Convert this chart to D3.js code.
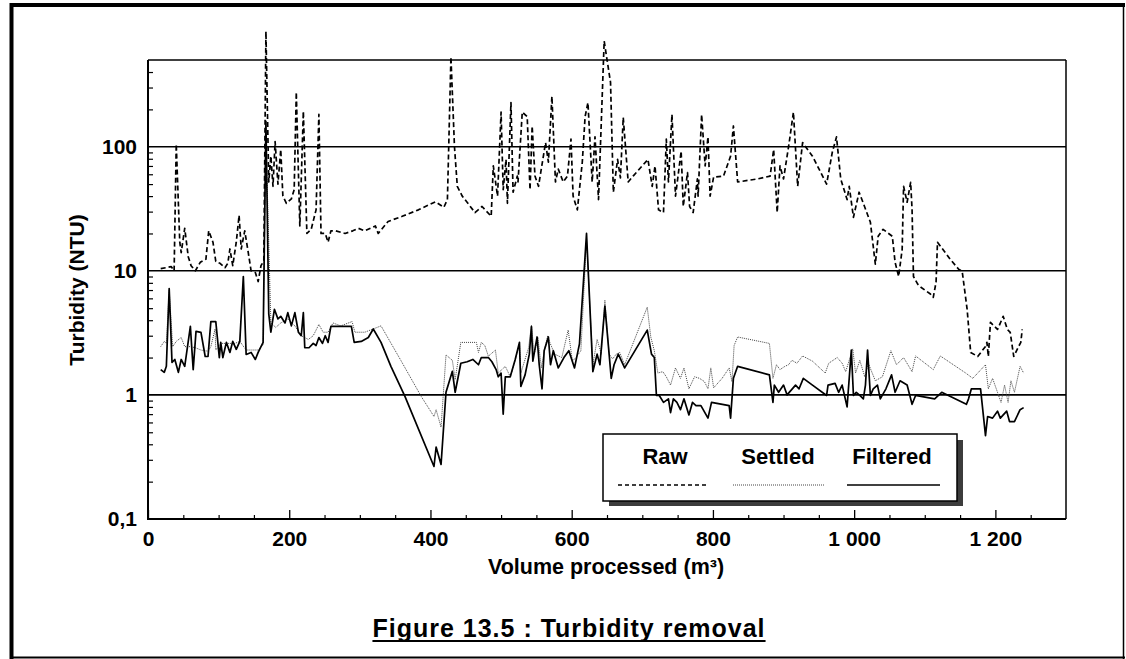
<!DOCTYPE html>
<html>
<head>
<meta charset="utf-8">
<script src="https://cdn.jsdelivr.net/npm/d3@7"></script>
<style>
  html, body { margin: 0; padding: 0; background: #fff; }
  svg { display: block; }
  text { font-family: "Liberation Sans", Arial, sans-serif; font-weight: bold; fill: #000; }
</style>
</head>
<body>
<svg id="chart" width="1126" height="659"></svg>
<script>
// ---------------- DATA ----------------
const rawX = [18,33,37,40,45,47,52,57,61,67,74,82,86,92,96,102,109,113,116,120,125,129,132,137,142,146,152,156,160,164,167,171,174,177,180,184,188,191,196,203,207,210,215,220,225,231,238,242,245,251,255,259,266,279,290,298,307,322,326,340,360,383,407,419,424,429,434,438,445,453,463,473,486,489,495,500,503,507,509,514,517,523,524,530,537,541,544,548,553,563,567,572,577,581,588,594,599,602,608,615,619,623,629,633,638,646,655,659,665,669,673,680,687,708,714,718,723,730,734,737,742,747,755,758,764,767,772,778,779,784,789,793,796,801,815,825,829,835,863,881,886,891,895,900,908,914,920,927,941,961,969,975,981,990,993,999,1007,1013,1023,1030,1034,1041,1054,1058,1063,1068,1070,1075,1080,1082,1084,1090,1094,1108,1112,1116,1118,1136,1148,1153,1160,1165,1175,1186,1188,1190,1193,1203,1205,1211,1217,1221,1226,1233,1236,1238];
const rawY = [10.4,10.8,10.0,105,17,14,22,13,11,10,11.7,12.4,21,17,11.9,11.5,10.6,11.5,15,11,17,28,15,21,14,10,9.7,8.2,11,12,850,52,84,48,110,50,95,40,35,38,45,275,23,193,20,21.5,31,182,20,20,17,21,21,20,21,22,21,23,20,25,27.5,31,36,32.5,37.5,530,100,48,40,35,29.5,33,27.5,70,40,190,45,79,35,227,43,58,52,190,175,45,147,58,48,108,75,255,52,66,52,58,115,40,31,75,175,227,52,120,37.5,710,330,43,79,56,172,52,58,79,48,70,31,29.5,115,52,182,40,92,33,62,33,29.5,55,40,182,70,120,40,57,58,84,147,52,55,58,95,29.5,70,55,108,190,48,108,84,50,90,120,55,37.5,48,27,43,35,24.6,11.3,19,21.6,19,11.7,9.0,14.9,48,35.7,51.7,31.3,9.0,7.8,7.4,6.5,6.1,8.1,17,12.4,10.3,9.9,4.9,2.2,2.04,2.46,2.65,2.04,3.84,3.37,3.57,4.3,3.37,3.19,2.04,2.46,2.65,3.37];

const settledX = [18,23,26,30,35,40,47,52,60,67,75,85,89,95,96,103,113,123,130,139,147,156,163,167,174,181,188,198,208,217,227,234,242,248,255,262,273,289,293,307,330,358,387,405,408,415,422,431,435,443,453,465,468,472,477,482,492,496,506,513,520,526,528,539,543,547,552,557,562,566,569,576,586,595,601,606,613,621,630,636,642,647,653,658,663,668,675,707,712,717,722,729,734,740,747,754,759,766,774,781,788,793,797,801,813,823,827,830,835,880,885,890,895,902,907,912,919,927,941,959,964,976,983,988,998,1002,1008,1015,1020,1030,1040,1052,1060,1070,1082,1087,1112,1122,1158,1168,1186,1190,1196,1203,1208,1213,1218,1222,1227,1235,1240];
const settledY = [2.45,2.7,2.6,7.0,2.45,2.7,2.9,2.45,2.45,2.4,2.3,2.25,2.45,3.4,2.3,2.6,2.6,2.6,2.7,2.3,2.3,2.3,2.55,120,3.8,3.5,3.8,4.1,3.6,3.0,2.8,3.0,3.7,3.2,3.2,3.8,3.6,3.9,3.2,3.2,3.6,1.9,0.97,0.67,0.76,0.55,2.1,1.9,1.33,2.65,2.65,2.65,2.2,2.65,2.5,2.05,2.3,1.5,1.7,1.4,1.9,2.6,1.5,2.4,3.65,2.13,2.93,1.65,2.4,3.0,2.65,2.13,2.0,3.33,1.87,2.0,2.27,18,1.75,2.8,2.13,5.8,2.13,1.95,2.13,2.2,1.75,5.1,2.93,2.27,1.5,1.54,1.4,1.2,1.65,1.36,1.65,1.12,1.4,1.36,1.28,1.12,1.65,1.14,1.36,1.65,1.28,2.5,2.93,2.6,1.36,1.75,1.6,1.7,1.75,1.9,1.8,2.06,1.87,1.5,1.8,2.0,1.8,1.54,2.35,1.5,1.9,1.4,1.8,1.3,1.4,2.27,1.75,2.0,1.54,2.06,1.6,2.06,1.5,1.36,1.75,1.12,1.36,1.05,0.87,1.2,0.87,1.3,1.05,1.7,1.5];

const filteredX = [18,23,26,30,34,38,43,47,52,60,64,68,75,81,85,89,96,101,103,106,111,116,120,125,130,135,139,146,152,156,163,167,171,174,179,184,188,194,198,203,208,213,217,220,222,228,234,238,242,247,251,255,259,288,292,302,312,319,330,344,364,405,408,415,422,431,435,443,452,460,468,472,482,487,493,496,500,503,506,513,520,526,528,534,540,543,545,551,554,558,561,567,570,574,581,589,596,604,611,621,630,636,640,647,653,656,660,666,675,707,713,717,720,724,730,737,740,744,749,754,759,766,771,776,783,793,798,823,825,829,835,880,885,887,893,900,905,917,922,928,941,961,963,973,978,983,990,996,999,1003,1008,1013,1016,1019,1023,1027,1033,1037,1045,1053,1058,1065,1075,1082,1087,1114,1124,1159,1162,1166,1179,1186,1189,1196,1203,1207,1216,1220,1227,1235,1240];
const filteredY = [1.6,1.52,1.7,7.2,1.83,1.93,1.52,1.93,1.7,3.57,1.6,3.25,3.19,2.04,2.04,3.9,3.9,2.0,2.65,2.0,2.65,2.2,2.7,2.33,2.7,9.0,2.12,2.2,1.93,2.2,2.65,160,4.5,3.2,4.9,4.1,4.3,3.8,4.6,3.6,4.6,3.2,3.0,4.6,2.4,2.4,2.6,2.5,2.9,2.6,3.0,2.65,3.57,3.57,2.65,2.7,2.9,3.4,2.65,1.7,0.97,0.265,0.38,0.275,1.05,1.55,1.05,1.8,1.85,1.93,1.75,2.0,2.0,1.85,1.6,1.4,1.5,0.7,1.4,1.4,1.93,2.65,1.17,1.45,2.13,3.55,1.87,2.93,1.75,1.12,2.27,2.93,1.75,2.27,1.65,2.0,2.27,1.65,2.58,20,1.54,2.13,1.75,5.2,2.13,1.36,1.75,2.13,1.65,3.33,2.13,2.0,0.99,0.99,0.87,0.93,0.72,0.93,0.87,0.76,0.93,0.69,0.87,0.82,0.82,0.65,0.87,0.82,0.65,1.36,1.7,1.45,0.87,1.2,1.05,1.2,1.0,1.2,1.12,1.36,1.2,0.99,1.2,1.24,1.05,1.2,0.8,2.3,0.99,1.05,0.99,0.93,1.2,2.3,0.99,1.12,1.2,0.93,1.12,1.45,1.05,1.3,1.2,0.84,0.99,0.93,1.05,0.84,0.93,1.12,1.12,0.47,0.67,0.65,0.74,0.65,0.74,0.61,0.61,0.76,0.79];

const xTickValues = [0, 200, 400, 600, 800, 1000, 1200];
const xTickLabels = ["0", "200", "400", "600", "800", "1 000", "1 200"];
const yTickValues = [0.1, 1, 10, 100];
const yTickLabels = ["0,1", "1", "10", "100"];
const seriesNames = ["Raw", "Settled", "Filtered"];
const chartTitle = "Figure 13.5 : Turbidity removal";
const xTitle = "Volume processed (m\u00B3)";
const yTitle = "Turbidity (NTU)";

// ---------------- LAYOUT ----------------
const svg = d3.select("#chart");
const L = 148, R = 1066, T = 60, B = 519;
const x = d3.scaleLinear().domain([0, 1300]).range([L, R]);
const y = d3.scaleLog().domain([0.1, 500]).range([B, T]);
const FONT = "'Liberation Sans', Arial, sans-serif";

// outer frame
svg.append("line").attr("x1", 11.5).attr("x2", 11.5).attr("y1", 3).attr("y2", 659).attr("stroke", "#000").attr("stroke-width", 4);
svg.append("line").attr("x1", 10).attr("x2", 1125).attr("y1", 5).attr("y2", 5).attr("stroke", "#000").attr("stroke-width", 4);
svg.append("line").attr("x1", 1123.5).attr("x2", 1123.5).attr("y1", 3).attr("y2", 659).attr("stroke", "#000").attr("stroke-width", 1.5);
svg.append("line").attr("x1", 10).attr("x2", 1125).attr("y1", 657.5).attr("y2", 657.5).attr("stroke", "#000").attr("stroke-width", 2);

// grid lines at decades + frame
const grid = svg.append("g");
[1, 10, 100].forEach(v => {
  grid.append("line").attr("x1", L).attr("x2", R).attr("y1", y(v)).attr("y2", y(v))
    .attr("stroke", "#000").attr("stroke-width", 1.6);
});
grid.append("line").attr("x1", L).attr("x2", R).attr("y1", T).attr("y2", T).attr("stroke", "#000").attr("stroke-width", 1.5);
grid.append("line").attr("x1", R).attr("x2", R).attr("y1", T).attr("y2", B).attr("stroke", "#000").attr("stroke-width", 1.5);

// x axis minor ticks
const xMinor = d3.range(50, 1300, 50).filter(v => v % 200 !== 0);
svg.append("g").attr("transform", `translate(0,${B})`)
  .call(d3.axisBottom(x).tickValues(xMinor).tickSize(-4).tickFormat(""))
  .call(g => g.select(".domain").remove())
  .selectAll("line").attr("stroke", "#000").attr("stroke-width", 1.2);
// x axis major
const xAxisG = svg.append("g").attr("transform", `translate(0,${B})`)
  .call(d3.axisBottom(x).tickValues(xTickValues).tickSize(-9).tickPadding(12)
    .tickFormat((d, i) => xTickLabels[i]));
xAxisG.select(".domain").remove();
xAxisG.selectAll("line").attr("stroke", "#000").attr("stroke-width", 1.3);
xAxisG.selectAll("text").style("font-size", "21px").style("font-family", FONT).style("font-weight", "bold").attr("fill", "#000");

// y axis minor ticks
const yMinor = [];
[0.1, 1, 10, 100].forEach(d => { for (let k = 2; k <= 9; k++) { if (d * k < 500) yMinor.push(d * k); } });
svg.append("g").attr("transform", `translate(${L},0)`)
  .call(d3.axisLeft(y).tickValues(yMinor).tickSize(-5).tickFormat(""))
  .call(g => g.select(".domain").remove())
  .selectAll("line").attr("stroke", "#000").attr("stroke-width", 1.2);
// y axis labels
const yAxisG = svg.append("g").attr("transform", `translate(${L},0)`)
  .call(d3.axisLeft(y).tickValues(yTickValues).tickSize(0).tickPadding(11)
    .tickFormat((d, i) => yTickLabels[i]));
yAxisG.select(".domain").remove();
yAxisG.selectAll("text").style("font-size", "21px").style("font-family", FONT).style("font-weight", "bold").attr("fill", "#000");

// axis lines
svg.append("line").attr("x1", L).attr("x2", L).attr("y1", T).attr("y2", B + 1).attr("stroke", "#000").attr("stroke-width", 2);
svg.append("line").attr("x1", L - 1).attr("x2", R).attr("y1", B).attr("y2", B).attr("stroke", "#000").attr("stroke-width", 2);

// series
const line = d3.line().x(d => x(d[0])).y(d => y(d[1]));
const zip = (a, b) => a.map((v, i) => [v, b[i]]);
const styles = [
  { stroke: "#000", width: 1.7, dash: "5,3" },
  { stroke: "#444", width: 1.0, dash: "1,1" },
  { stroke: "#000", width: 1.7, dash: null }
];
const seriesData = [zip(rawX, rawY), zip(settledX, settledY), zip(filteredX, filteredY)];
[1, 2, 0].forEach(i => {
  const p = svg.append("path").datum(seriesData[i]).attr("d", line)
    .attr("fill", "none").attr("stroke", styles[i].stroke).attr("stroke-width", styles[i].width)
    .attr("stroke-linejoin", "round");
  if (styles[i].dash) p.attr("stroke-dasharray", styles[i].dash);
});

// legend
const lg = svg.append("g");
lg.append("rect").attr("x", 609).attr("y", 440).attr("width", 354).attr("height", 66).attr("fill", "#3c3c3c");
lg.append("rect").attr("x", 603).attr("y", 434).attr("width", 354).attr("height", 67)
  .attr("fill", "#fff").attr("stroke", "#000").attr("stroke-width", 1.5);
const legX = [[618, 708], [733, 825], [847, 940]];
const legLabelX = [665, 778, 892];
seriesNames.forEach((n, i) => {
  lg.append("text").attr("x", legLabelX[i]).attr("y", 464).attr("text-anchor", "middle")
    .style("font-size", "22px").text(n);
  const l = lg.append("line").attr("x1", legX[i][0]).attr("x2", legX[i][1]).attr("y1", 485).attr("y2", 485)
    .attr("stroke", styles[i].stroke).attr("stroke-width", styles[i].width);
  if (styles[i].dash) l.attr("stroke-dasharray", i === 0 ? "4,3" : styles[i].dash);
});

// axis titles
svg.append("text").attr("x", 606).attr("y", 574).attr("text-anchor", "middle")
  .style("font-size", "21.5px").text(xTitle);
svg.append("text").attr("transform", "translate(84,290) rotate(-90)").attr("text-anchor", "middle")
  .style("font-size", "21px").text(yTitle);

// chart title with underline
const tt = svg.append("text").attr("x", 569).attr("y", 637).attr("text-anchor", "middle")
  .style("font-size", "25px").style("letter-spacing", "1px").text(chartTitle);
const tw = tt.node().getBBox().width;
svg.append("line").attr("x1", 569 - tw / 2).attr("x2", 569 + tw / 2).attr("y1", 641).attr("y2", 641)
  .attr("stroke", "#000").attr("stroke-width", 2);
</script>
</body>
</html>
